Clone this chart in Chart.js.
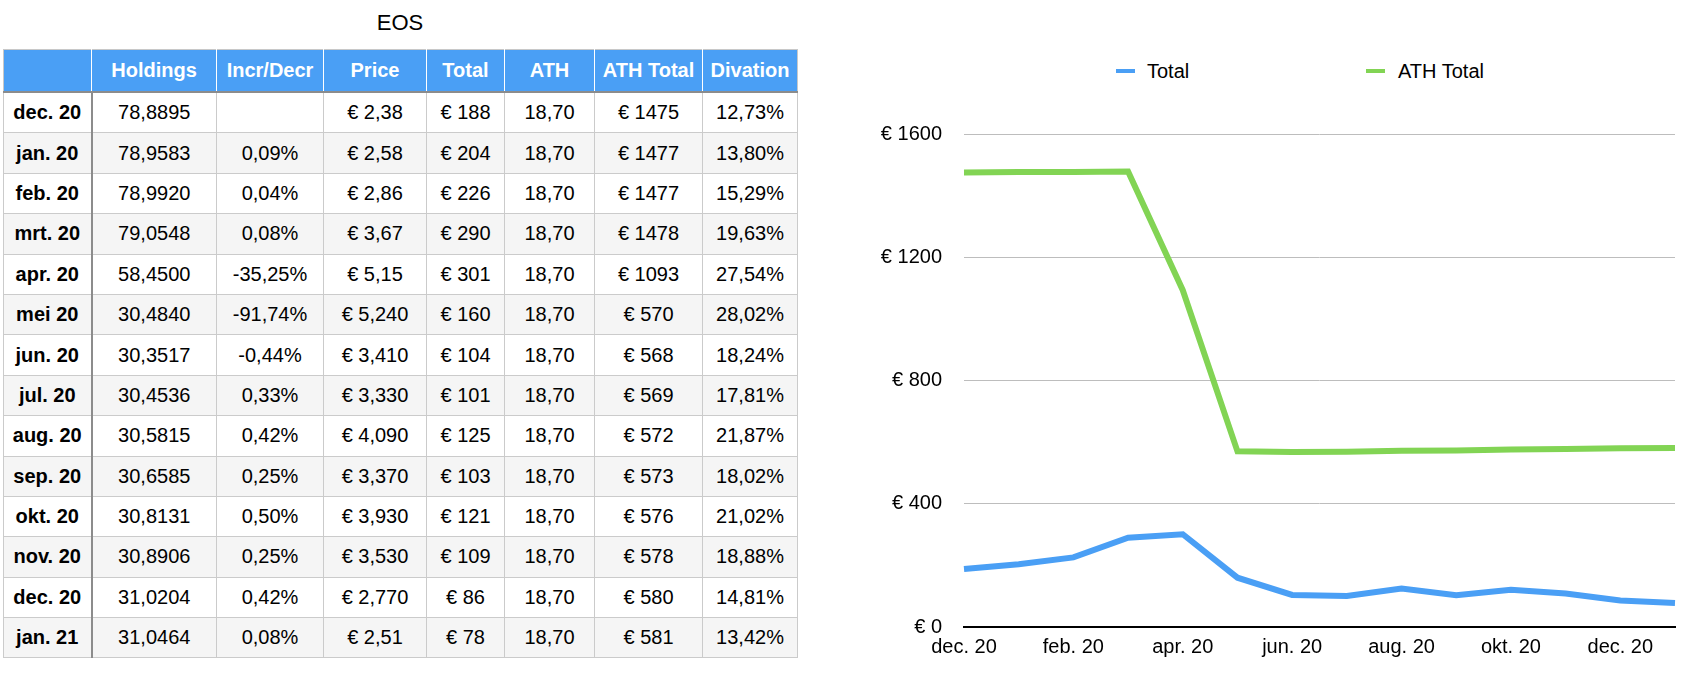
<!DOCTYPE html>
<html>
<head>
<meta charset="utf-8">
<script src="https://cdn.jsdelivr.net/npm/chart.js@4"></script>
<style>
  body { margin: 0; background: #fff; font-family: 'Liberation Sans', Arial, sans-serif; color: #000; }
  #title { position: absolute; left: 3px; top: 10px; width: 794px; text-align: center; font-size: 22px; line-height: 26px; }
  table { position: absolute; left: 3px; top: 49px; width: 794px; border-collapse: collapse; table-layout: fixed; font-size: 20px; }
  th { background: #4a9ff5; color: #fff; font-weight: bold; height: 41px; padding: 0;
       border: 1px solid #c8c8c8; border-left-color: #fff; border-right-color: #fff; border-bottom: 2px solid #8c8c8c; }
  th:first-child { border-left-color: #c8c8c8; }
  th:last-child { border-right-color: #c8c8c8; }
  td { border: 1px solid #cbcbcb; text-align: center; height: 39.4px; padding: 0; }
  td:first-child { font-weight: bold; border-right: 2px solid #8c8c8c; }
  tbody tr:nth-child(even) td { background: #f5f5f5; }
  .legend { position: absolute; top: 59px; font-size: 20px; line-height: 24px; }
  .legend span.mark { position: absolute; top: 10px; width: 19px; height: 4px; }
  #chartBox { position: absolute; left: 800px; top: 100px; width: 892px; height: 588px; }
</style>
</head>
<body>
<div id="title">EOS</div>
<table id="eosTable">
  <colgroup>
    <col style="width:88px"><col style="width:125px"><col style="width:107px"><col style="width:103px">
    <col style="width:78px"><col style="width:90px"><col style="width:108px"><col style="width:95px">
  </colgroup>
  <thead><tr id="headRow"></tr></thead>
  <tbody id="tableBody"></tbody>
</table>

<div class="legend" style="left:1116px"><span class="mark" style="left:0;background:#4a9ff5"></span><span style="margin-left:31px">Total</span></div>
<div class="legend" style="left:1366px"><span class="mark" style="left:0;background:#82d454"></span><span style="margin-left:32px">ATH Total</span></div>

<div id="chartBox"><canvas id="eosChart"></canvas></div>

<script>
const headers = ['', 'Holdings', 'Incr/Decr', 'Price', 'Total', 'ATH', 'ATH Total', 'Divation'];
const months = ['dec. 20', 'jan. 20', 'feb. 20', 'mrt. 20', 'apr. 20', 'mei 20', 'jun. 20',
                'jul. 20', 'aug. 20', 'sep. 20', 'okt. 20', 'nov. 20', 'dec. 20', 'jan. 21'];
const holdings = ['78,8895', '78,9583', '78,9920', '79,0548', '58,4500', '30,4840', '30,3517',
                  '30,4536', '30,5815', '30,6585', '30,8131', '30,8906', '31,0204', '31,0464'];
const change = ['', '0,09%', '0,04%', '0,08%', '-35,25%', '-91,74%', '-0,44%',
                '0,33%', '0,42%', '0,25%', '0,50%', '0,25%', '0,42%', '0,08%'];
const price = ['€ 2,38', '€ 2,58', '€ 2,86', '€ 3,67', '€ 5,15', '€ 5,240', '€ 3,410',
               '€ 3,330', '€ 4,090', '€ 3,370', '€ 3,930', '€ 3,530', '€ 2,770', '€ 2,51'];
const totals = [188, 204, 226, 290, 301, 160, 104, 101, 125, 103, 121, 109, 86, 78];
const ath = ['18,70', '18,70', '18,70', '18,70', '18,70', '18,70', '18,70',
             '18,70', '18,70', '18,70', '18,70', '18,70', '18,70', '18,70'];
const athTotals = [1475, 1477, 1477, 1478, 1093, 570, 568, 569, 572, 573, 576, 578, 580, 581];
const deviation = ['12,73%', '13,80%', '15,29%', '19,63%', '27,54%', '28,02%', '18,24%',
                   '17,81%', '21,87%', '18,02%', '21,02%', '18,88%', '14,81%', '13,42%'];
const yTicks = [0, 400, 800, 1200, 1600];

// Build the table
const headRow = document.getElementById('headRow');
headers.forEach(h => {
    const th = document.createElement('th');
    th.textContent = h;
    headRow.appendChild(th);
});

const tableBody = document.getElementById('tableBody');
months.forEach((m, i) => {
    const tr = document.createElement('tr');
    const cells = [m, holdings[i], change[i], price[i], '€ ' + totals[i], ath[i], '€ ' + athTotals[i], deviation[i]];
    cells.forEach(c => {
        const td = document.createElement('td');
        td.textContent = c;
        tr.appendChild(td);
    });
    tableBody.appendChild(tr);
});

// Render the chart
const ctx = document.getElementById('eosChart').getContext('2d');
const tickFont = { family: "'Liberation Sans', Arial, sans-serif", size: 20 };

new Chart(ctx, {
    type: 'line',
    data: {
        labels: months,
        datasets: [
            {
                label: 'Total',
                data: totals,
                borderColor: '#4a9ff5',
                backgroundColor: '#4a9ff5',
                borderWidth: 6,
                pointRadius: 0,
                tension: 0
            },
            {
                label: 'ATH Total',
                data: athTotals,
                borderColor: '#82d454',
                backgroundColor: '#82d454',
                borderWidth: 6,
                pointRadius: 0,
                tension: 0
            }
        ]
    },
    options: {
        responsive: true,
        maintainAspectRatio: false,
        animation: false,
        layout: { padding: { top: 33, right: 17, left: 0, bottom: 0 } },
        plugins: {
            legend: { display: false },
            tooltip: { enabled: false }
        },
        scales: {
            x: {
                offset: false,
                grid: { display: false, drawTicks: false },
                border: { display: true, color: '#000', width: 2 },
                ticks: {
                    autoSkip: false,
                    maxRotation: 0,
                    padding: 8,
                    color: '#000',
                    font: tickFont,
                    callback: (value, i) => (i % 2 === 0 ? months[i] : '')
                },
                afterFit: scale => { scale.height = 61; }
            },
            y: {
                min: yTicks[0],
                max: yTicks[yTicks.length - 1],
                afterBuildTicks: scale => { scale.ticks = yTicks.map(v => ({ value: v })); },
                grid: { color: '#bdbdbd', lineWidth: 1, drawTicks: false },
                border: { display: false },
                ticks: {
                    padding: 22,
                    color: '#000',
                    font: tickFont,
                    callback: value => '€ ' + value
                },
                afterFit: scale => { scale.width = 164; }
            }
        }
    }
});
</script>
</body>
</html>
